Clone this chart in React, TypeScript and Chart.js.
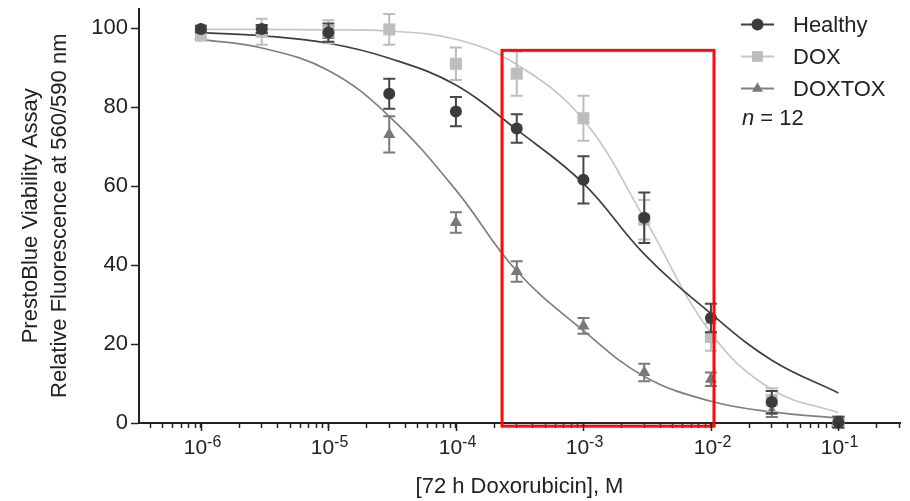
import { useEffect, useRef } from 'react';
import { Chart, registerables } from 'chart.js';

Chart.register(...registerables);

// ---------- data ----------
const concentrations = [1e-6, 3e-6, 1e-5, 3e-5, 1e-4, 3e-4, 1e-3, 3e-3, 1e-2, 3e-2, 1e-1];

const healthyMean = [99.8, 99.8, 98.9, 83.4, 78.9, 74.6, 61.6, 52.0, 26.6, 5.3, 0.2];
const healthyErr = [0.8, 1.0, 2.3, 3.8, 3.7, 3.6, 6.0, 6.4, 3.6, 2.8, 1.4];
const doxMean = [98.1, 99.1, 99.1, 99.7, 91.0, 88.5, 77.2, 51.5, 21.8, 5.8, 0.4];
const doxErr = [1.0, 3.3, 2.9, 3.9, 4.1, 5.6, 5.7, 5.0, 3.5, 3.0, 1.0];
const doxtoxMean = [98.2, 99.6, 99.0, 73.1, 50.8, 38.4, 24.6, 12.8, 11.1, 3.0, 0.3];
const doxtoxErr = [1.0, 1.0, 1.5, 4.6, 2.6, 2.6, 2.0, 2.2, 1.7, 1.5, 1.0];

// fitted curves at each concentration
const healthyFit = [98.9, 98.1, 96.2, 92.4, 85.6, 74.3, 60.7, 42.8, 27.7, 15.9, 7.6];
const doxFit = [99.7, 99.7, 99.6, 99.3, 97.2, 90.8, 76.8, 51.9, 22.8, 8.5, 2.6];
const doxtoxFit = [97.2, 95.0, 89.3, 77.7, 59.0, 38.5, 23.4, 11.8, 5.5, 2.8, 1.2];

const seriesNames = ['Healthy', 'DOX', 'DOXTOX'];
const sampleNote = ['n', ' = 12'];

const xMajorTicks = [1e-6, 1e-5, 1e-4, 1e-3, 1e-2, 1e-1];
const xTickBase = '10';
const xTickExponents = ['-6', '-5', '-4', '-3', '-2', '-1'];
const xMinorMantissas = [2, 3, 4, 5, 6, 7, 8, 9];
const xDecades = [1e-7, 1e-6, 1e-5, 1e-4, 1e-3, 1e-2, 1e-1];
const yTicks = [0, 20, 40, 60, 80, 100];

const xTitle = '[72 h Doxorubicin], M';
const yTitle = ['PrestoBlue Viability Assay', 'Relative Fluorescence at 560/590 nm'];

const highlightX = [2.3e-4, 1.057e-2];
const highlightY = [-0.8, 94.4];

const X_MIN = 3.27e-7;
const X_MAX = 0.304;
const Y_MIN = 0;
const Y_MAX = 105;

// ---------- styles ----------
const FONT = "'Liberation Sans', Arial, Helvetica, sans-serif";
const INK = '#222222';
const pointColors = ['#3b3b3b', '#bdbdbd', '#787878'];
const errColors = ['#474747', '#bdbdbd', '#7a7a7a'];
const lineColors = ['#3f3f3f', '#c6c6c6', '#808080'];
const pointStyles = ['circle', 'rect', 'triangle'];
const pointRadii = [6, 8.5, 7];

function isMajor(v: number) {
  return xMajorTicks.some((m) => Math.abs(v - m) / m < 1e-6);
}

function drawMarker(ctx: CanvasRenderingContext2D, style: string, x: number, y: number, r: number) {
  ctx.beginPath();
  if (style === 'circle') {
    ctx.arc(x, y, r, 0, Math.PI * 2);
  } else if (style === 'rect') {
    const s = Math.SQRT1_2 * r;
    ctx.rect(x - s, y - s, 2 * s, 2 * s);
  } else {
    const a = (2 * Math.PI) / 3;
    ctx.moveTo(x, y - r);
    ctx.lineTo(x + Math.sin(a) * r, y - Math.cos(a) * r);
    ctx.lineTo(x + Math.sin(2 * a) * r, y - Math.cos(2 * a) * r);
    ctx.closePath();
  }
  ctx.fill();
}

const errorBarPlugin = {
  id: 'errorBars',
  beforeDatasetDraw(chart: any, args: any) {
    const ds = chart.data.datasets[args.index];
    if (!ds.errors) return;
    const ys = chart.scales.y;
    const ctx = chart.ctx as CanvasRenderingContext2D;
    ctx.save();
    ctx.strokeStyle = ds.errorColor;
    ctx.lineWidth = 2;
    args.meta.data.forEach((pt: any, i: number) => {
      const v = ds.data[i].y;
      const e = ds.errors[i];
      const x = pt.x;
      const yt = ys.getPixelForValue(v + e);
      const yb = ys.getPixelForValue(v - e);
      ctx.beginPath();
      ctx.moveTo(x, yt);
      ctx.lineTo(x, yb);
      ctx.moveTo(x - 6, yt);
      ctx.lineTo(x + 6, yt);
      ctx.moveTo(x - 6, yb);
      ctx.lineTo(x + 6, yb);
      ctx.stroke();
    });
    ctx.restore();
  },
};

const decorPlugin = {
  id: 'decor',
  afterDatasetsDraw(chart: any) {
    const ctx = chart.ctx as CanvasRenderingContext2D;
    const xs = chart.scales.x;
    const ys = chart.scales.y;
    // red highlight box
    const x0 = xs.getPixelForValue(highlightX[0]);
    const x1 = xs.getPixelForValue(highlightX[1]);
    const y0 = ys.getPixelForValue(highlightY[1]);
    const y1 = ys.getPixelForValue(highlightY[0]);
    ctx.save();
    ctx.strokeStyle = '#ff0a0a';
    ctx.lineWidth = 3;
    ctx.strokeRect(x0, y0, x1 - x0, y1 - y0);
    ctx.restore();
  },
  afterDraw(chart: any) {
    const ctx = chart.ctx as CanvasRenderingContext2D;
    const xs = chart.scales.x;
    const area = chart.chartArea;
    ctx.save();
    // longer major ticks and power-of-ten labels on x axis
    ctx.strokeStyle = INK;
    ctx.lineWidth = 1.5;
    ctx.fillStyle = INK;
    ctx.textAlign = 'left';
    ctx.textBaseline = 'alphabetic';
    xMajorTicks.forEach((v, i) => {
      const px = Math.round(xs.getPixelForValue(v)) + 0.5;
      ctx.beginPath();
      ctx.moveTo(px, area.bottom);
      ctx.lineTo(px, area.bottom + 8);
      ctx.stroke();
      ctx.font = `21px ${FONT}`;
      const wb = ctx.measureText(xTickBase).width;
      ctx.font = `16px ${FONT}`;
      const we = ctx.measureText(xTickExponents[i]).width;
      const sx = px - (wb + we) / 2 + 1;
      ctx.font = `21px ${FONT}`;
      ctx.fillText(xTickBase, sx, area.bottom + 31);
      ctx.font = `16px ${FONT}`;
      ctx.fillText(xTickExponents[i], sx + wb, area.bottom + 24);
    });
    // legend
    const lx0 = area.right - 159;
    const lx1 = area.right - 126;
    const mx = (lx0 + lx1) / 2;
    const tx = area.right - 107;
    const rows = [area.top + 16, area.top + 48, area.top + 80];
    ctx.font = `22px ${FONT}`;
    ctx.textBaseline = 'middle';
    ctx.textAlign = 'left';
    seriesNames.forEach((name, i) => {
      const y = rows[i];
      ctx.strokeStyle = lineColors[i];
      ctx.lineWidth = 2;
      ctx.beginPath();
      ctx.moveTo(lx0, y);
      ctx.lineTo(lx1, y);
      ctx.stroke();
      ctx.fillStyle = pointColors[i];
      drawMarker(ctx, pointStyles[i], mx, y, pointRadii[i] * (i === 0 ? 1 : 0.9));
      ctx.fillStyle = INK;
      ctx.fillText(name, tx, y + 1);
    });
    const ny = area.top + 110;
    ctx.fillStyle = INK;
    ctx.font = `italic 22px ${FONT}`;
    ctx.fillText(sampleNote[0], lx0 + 1, ny);
    const w = ctx.measureText(sampleNote[0]).width;
    ctx.font = `22px ${FONT}`;
    ctx.fillText(sampleNote[1], lx0 + 1 + w, ny);
    ctx.restore();
  },
};

export default function App() {
  const ref = useRef<HTMLCanvasElement | null>(null);

  useEffect(() => {
    if (!ref.current) return;
    const meanSets = [healthyMean, doxMean, doxtoxMean];
    const errSets = [healthyErr, doxErr, doxtoxErr];
    const fitSets = [healthyFit, doxFit, doxtoxFit];

    const pointDatasets = seriesNames.map((name, s) => ({
      label: name,
      data: concentrations.map((c, i) => ({ x: c, y: meanSets[s][i] })),
      errors: errSets[s],
      errorColor: errColors[s],
      showLine: false,
      pointStyle: pointStyles[s],
      pointRadius: pointRadii[s],
      pointBackgroundColor: pointColors[s],
      pointBorderColor: pointColors[s],
      pointBorderWidth: 0,
      borderColor: pointColors[s],
      backgroundColor: pointColors[s],
      clip: false,
    }));
    const curveDatasets = seriesNames.map((name, s) => ({
      label: name + ' fit',
      data: concentrations.map((c, i) => ({ x: c, y: fitSets[s][i] })),
      borderColor: lineColors[s],
      borderWidth: 1.7,
      pointRadius: 0,
      tension: 0.4,
      fill: false,
    }));

    const chart = new Chart(ref.current, {
      type: 'line',
      data: { datasets: [...pointDatasets, ...curveDatasets] as any },
      options: {
        animation: false,
        responsive: false,
        devicePixelRatio: 1,
        layout: { padding: { top: 7, right: 10, left: 0, bottom: 0 } },
        plugins: { legend: { display: false }, tooltip: { enabled: false } },
        scales: {
          x: {
            type: 'logarithmic',
            min: X_MIN,
            max: X_MAX,
            afterBuildTicks: (scale: any) => {
              const vals: number[] = [];
              xDecades.forEach((d) => {
                [1, ...xMinorMantissas].forEach((m) => {
                  const v = m * d;
                  if (v >= X_MIN && v <= X_MAX) vals.push(v);
                });
              });
              scale.ticks = vals.map((v) => ({ value: v, major: isMajor(v) }));
            },
            afterFit: (scale: any) => {
              scale.height = 78;
              scale.paddingLeft = 0;
              scale.paddingRight = 0;
            },
            grid: {
              display: true,
              drawOnChartArea: false,
              drawTicks: true,
              tickLength: 5,
              tickColor: INK,
              tickWidth: 1.5,
            },
            border: { display: true, color: INK, width: 2 },
            ticks: { display: false, autoSkip: false, maxRotation: 0, minRotation: 0 },
            title: {
              display: true,
              text: xTitle,
              color: INK,
              font: { family: FONT, size: 22 },
              padding: { top: 0, bottom: 1 },
            },
          },
          y: {
            min: Y_MIN,
            max: Y_MAX,
            afterBuildTicks: (scale: any) => {
              scale.ticks = yTicks.map((v) => ({ value: v }));
            },
            afterFit: (scale: any) => {
              scale.width = 139;
              scale.paddingTop = 0;
              scale.paddingBottom = 0;
            },
            grid: {
              display: true,
              drawOnChartArea: false,
              drawTicks: true,
              tickLength: 8,
              tickColor: INK,
              tickWidth: 1.5,
            },
            border: { display: true, color: INK, width: 2 },
            ticks: {
              padding: 3,
              color: INK,
              font: { family: FONT, size: 22 },
            },
            title: {
              display: true,
              text: yTitle,
              color: INK,
              font: { family: FONT, size: 22, lineHeight: 1.32 },
              padding: { top: 16, bottom: 0 },
            },
          },
        },
      } as any,
      plugins: [errorBarPlugin, decorPlugin],
    });
    return () => chart.destroy();
  }, []);

  return (
    <div style={{ position: 'fixed', left: 0, top: 0, width: 910, height: 501, background: '#ffffff' }}>
      <canvas ref={ref} width={910} height={501} style={{ display: 'block' }} />
    </div>
  );
}
